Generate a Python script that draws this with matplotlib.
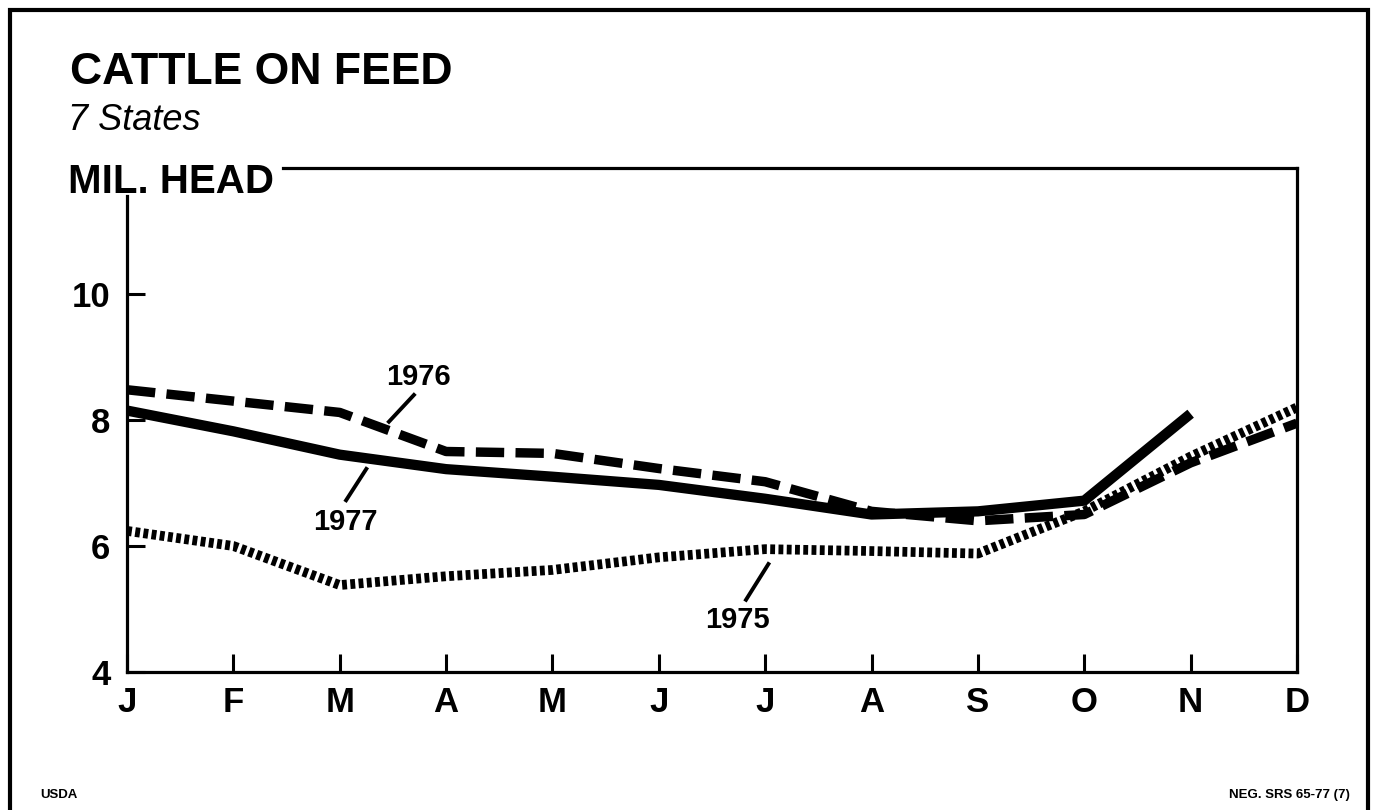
import matplotlib
matplotlib.use('Agg')
from matplotlib import pyplot as plt
from matplotlib.patches import Rectangle

plt.rcParams['font.family'] = ['Liberation Sans', 'DejaVu Sans']

# months and monthly head counts (mil.)
months = ['J', 'F', 'M', 'A', 'M', 'J', 'J', 'A', 'S', 'O', 'N', 'D']
y1975 = [6.24, 6.0, 5.38, 5.52, 5.62, 5.82, 5.95, 5.92, 5.88, 6.55, 7.42, 8.2]
y1976 = [8.48, 8.3, 8.12, 7.5, 7.47, 7.23, 7.02, 6.55, 6.4, 6.5, 7.32, 7.95]
y1977 = [8.15, 7.82, 7.45, 7.22, 7.1, 6.97, 6.75, 6.5, 6.55, 6.72, 8.1]
yticks = [4, 6, 8, 10]

fig = plt.figure(figsize=(13.74, 8.10), dpi=100)
ax = fig.add_axes([127 / 1374, 138 / 810, (1297 - 127) / 1374, (672 - 168) / 810])

x = list(range(len(months)))
ax.plot(x, y1976, color='black', lw=6.8, linestyle=(0, (3.0, 1.2)),
        solid_capstyle='butt', dash_capstyle='butt', zorder=2)
ax.plot(x, y1975, color='black', lw=7.0, linestyle=(0, (0.5, 0.35)),
        dash_capstyle='butt', zorder=3)
ax.plot(x[:len(y1977)], y1977, color='black', lw=7.4, solid_capstyle='butt',
        solid_joinstyle='round', zorder=4)

# year labels with leader lines
ax.text(2.74, 8.68, '1976', fontsize=21, fontweight='bold', ha='center', va='center')
ax.plot([2.71, 2.45], [8.42, 7.95], color='black', lw=2.8, solid_capstyle='butt')
ax.text(2.05, 6.38, '1977', fontsize=21, fontweight='bold', ha='center', va='center')
ax.plot([2.26, 2.05], [7.25, 6.7], color='black', lw=2.8, solid_capstyle='butt')
ax.text(5.74, 4.82, '1975', fontsize=21, fontweight='bold', ha='center', va='center')
ax.plot([6.04, 5.81], [5.74, 5.12], color='black', lw=2.8, solid_capstyle='butt')

ax.set_xlim(0, 11)
ax.set_ylim(4, 12)
ax.set_xticks(x)
ax.set_xticklabels(months)
ax.set_yticks(yticks)
ax.set_yticklabels([str(v) for v in yticks])
ax.tick_params(axis='both', direction='in', length=13, width=2.2, labelsize=25, color='black')
ax.tick_params(axis='x', pad=10)
ax.tick_params(axis='y', pad=12)
for lab in ax.get_xticklabels() + ax.get_yticklabels():
    lab.set_fontweight('bold')

for s in ax.spines.values():
    s.set_linewidth(2.3)
ax.spines['left'].set_bounds(4, 11.55)
ax.spines['top'].set_bounds(1.47, 11)

# titles
fig.text(70 / 1374, 1 - 72 / 810, 'CATTLE ON FEED', fontsize=32, fontweight='bold',
         ha='left', va='center')
fig.text(68 / 1374, 1 - 120 / 810, '7 States', fontsize=26, fontstyle='italic',
         ha='left', va='center')
fig.text(68 / 1374, 1 - 182 / 810, 'MIL. HEAD', fontsize=29, fontweight='bold',
         ha='left', va='center')

fig.text(40 / 1374, 1 - 795 / 810, 'USDA', fontsize=9.5, fontweight='bold',
         ha='left', va='center')
fig.text(1350 / 1374, 1 - 795 / 810, 'NEG. SRS 65-77 (7)', fontsize=9.5, fontweight='bold',
         ha='right', va='center')

# outer frame
fig.patches.append(Rectangle((10 / 1374, -0.05), (1368 - 10) / 1374, 1.05 - 10 / 810,
                             transform=fig.transFigure, fill=False, lw=3, edgecolor='black'))

fig.savefig('out.png', dpi=100)
